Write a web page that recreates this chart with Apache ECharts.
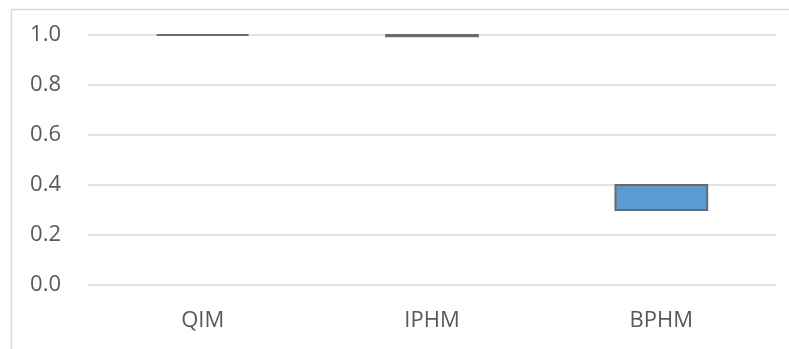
<!DOCTYPE html>
<html>
<head>
<meta charset="utf-8">
<script src="https://cdn.jsdelivr.net/npm/echarts@6/dist/echarts.min.js"></script>
<style>
  html, body { margin: 0; padding: 0; background: #ffffff; }
  #chart { width: 789px; height: 349px; }
</style>
</head>
<body>
<div id="chart"></div>
<script>
// Floating ranges (low → high) per method
const categories = ['QIM', 'IPHM', 'BPHM'];
const lowValues  = [1.0, 0.995, 0.3];
const highValues = [1.0, 1.0, 0.4];
const yTicks = [0.0, 0.2, 0.4, 0.6, 0.8, 1.0];

const rangeData = categories.map((c, i) => [i, lowValues[i], highValues[i]]);

const chart = echarts.init(document.getElementById('chart'), null, { renderer: 'canvas' });

chart.setOption({
  animation: false,
  backgroundColor: '#ffffff',
  textStyle: { fontFamily: 'Open Sans' },
  graphic: [{
    type: 'rect',
    shape: { x: 11.5, y: 9.5, width: 790, height: 345 },
    style: { fill: 'none', stroke: '#d9d9d9', lineWidth: 1.5 },
    silent: true
  }],
  grid: { left: 88, right: 13, top: 35, bottom: 64 },
  xAxis: {
    type: 'category',
    data: categories,
    axisLine: { show: false },
    axisTick: { show: false },
    axisLabel: { color: '#595959', fontSize: 22, margin: 25, fontFamily: 'Open Sans' }
  },
  yAxis: {
    type: 'value',
    min: yTicks[0],
    max: yTicks[yTicks.length - 1],
    interval: 0.2,
    axisLine: { show: false },
    axisTick: { show: false },
    splitLine: { lineStyle: { color: '#d9d9d9', width: 1.5 } },
    axisLabel: {
      color: '#595959', fontSize: 22, margin: 27, fontFamily: 'Open Sans',
      formatter: v => v.toFixed(1)
    }
  },
  series: [{
    type: 'custom',
    data: rangeData,
    encode: { x: 0, y: [1, 2] },
    renderItem: function (params, api) {
      const idx = api.value(0);
      const top = api.coord([idx, api.value(2)]);
      const bottom = api.coord([idx, api.value(1)]);
      const w = api.size([1, 0])[0] * 0.4;
      return {
        type: 'rect',
        shape: { x: top[0] - w / 2, y: top[1], width: w, height: bottom[1] - top[1] },
        style: { fill: '#5b9bd5', stroke: '#6a6a6a', lineWidth: 2 }
      };
    }
  }]
});
</script>
</body>
</html>
